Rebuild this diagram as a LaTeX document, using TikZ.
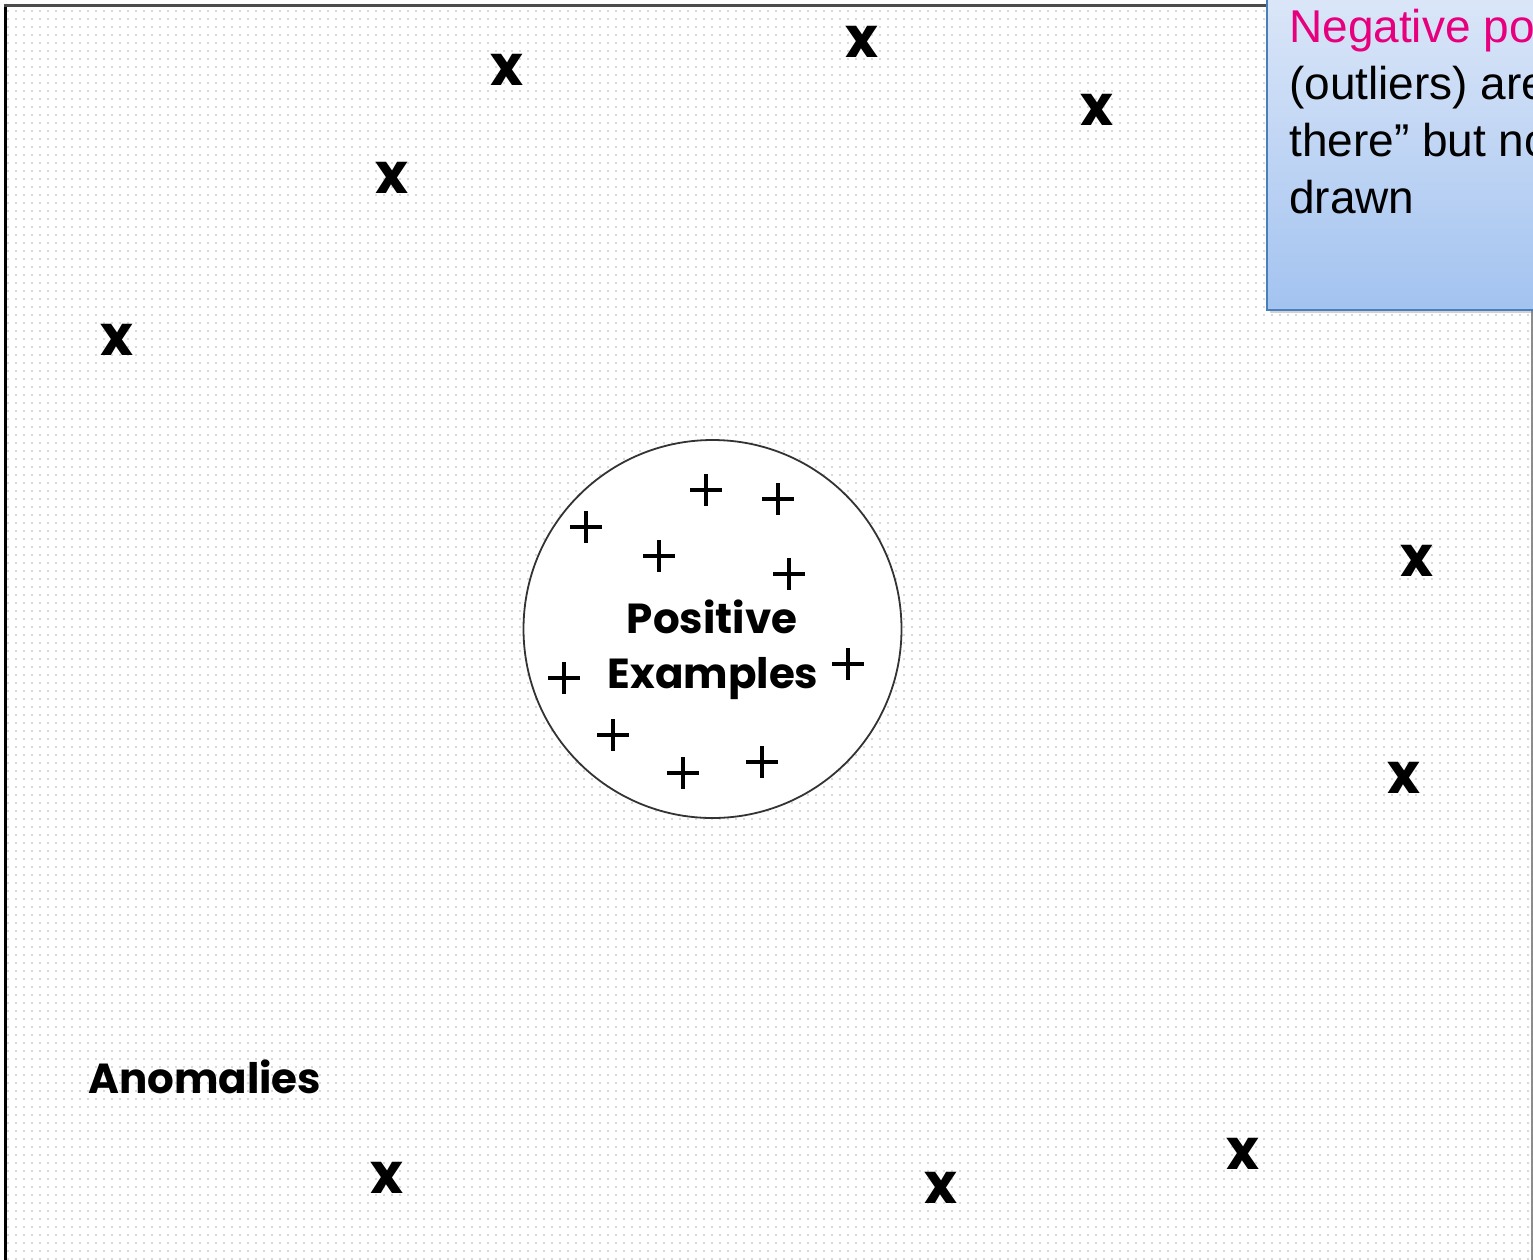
\documentclass[tikz,border=0pt]{standalone}
\usepackage{fontspec}
\setmainfont{Liberation Sans}
\newfontfamily\geo{Poppins}
\usetikzlibrary{patterns.meta,shadows}
\definecolor{negcol}{HTML}{E6007E}
\definecolor{boxtop}{HTML}{DCE7F8}
\definecolor{boxbot}{HTML}{A3C3F0}
\definecolor{boxline}{HTML}{4A7EBB}
\tikzset{
  xmark/.style={inner sep=0pt, font=\geo\bfseries\fontsize{56}{56}\selectfont},
  plusmark/.style={minimum size=32pt, inner sep=0pt, path picture={
    \draw[line width=3.4pt] (path picture bounding box.north) -- (path picture bounding box.south)
      (path picture bounding box.west) -- (path picture bounding box.east);}},
  bigbold/.style={inner sep=0pt, font=\geo\bfseries\fontsize{42}{55}\selectfont},
}
\begin{document}
\begin{tikzpicture}[x=1pt,y=-1pt]
\useasboundingbox (0,0) rectangle (1533,1259);
\clip (0,0) rectangle (1533,1259);
\fill[white] (0,0) rectangle (1533,1259);
\fill[pattern={Dots[distance=8pt,radius=1.1pt]}, pattern color=black!20] (5,5) rectangle (1533,1259);
% frame
\draw[line width=3pt, black] (5,3.5) -- (5,1262);
\draw[line width=3pt, black!70] (4,5) -- (1267,5);
\draw[line width=1.5pt, black!45] (1532,5) -- (1532,1262);
% circle
\node[circle, draw=black!80, line width=1.8pt, fill=white, minimum size=378pt, inner sep=0pt] (pos) at (712.5,629) {};
\node[bigbold, anchor=base] (t1) at (712,633) {Positive};
\node[bigbold, anchor=base] (t2) at (713,688) {Examples};
% plus marks
\node[plusmark] (p1) at (706,490) {};
\node[plusmark] (p2) at (778,499) {};
\node[plusmark] (p3) at (586,527) {};
\node[plusmark] (p4) at (659,556) {};
\node[plusmark] (p5) at (789,574) {};
\node[plusmark] (p6) at (564,678) {};
\node[plusmark] (p7) at (848,664) {};
\node[plusmark] (p8) at (613,735) {};
\node[plusmark] (p9) at (683,773) {};
\node[plusmark] (p10) at (762,762) {};
% x marks
\node[xmark] (x1) at (507,70) {x};
\node[xmark] (x2) at (862,42) {x};
\node[xmark] (x3) at (1097,110) {x};
\node[xmark] (x4) at (392,178) {x};
\node[xmark] (x5) at (117,340) {x};
\node[xmark] (x6) at (1417,561) {x};
\node[xmark] (x7) at (1404,778) {x};
\node[xmark] (x8) at (387,1178) {x};
\node[xmark] (x9) at (941,1188) {x};
\node[xmark] (x10) at (1243,1154) {x};
% anomalies
\node[bigbold, anchor=base west] (anom) at (88,1093) {Anomalies};
% callout box
\path[draw=boxline, line width=2pt, top color=boxtop, bottom color=boxbot,
  drop shadow={shadow xshift=3pt, shadow yshift=-3pt, opacity=0.35}]
  (1267,-10) rectangle (1560,310);
\node[anchor=base west, inner sep=0pt, align=left, font=\fontsize{46}{57}\selectfont] (note) at (1289,213)
  {\textcolor{negcol}{Negative points}\\(outliers) are “out\\there” but not\\drawn};
\end{tikzpicture}
\end{document}
